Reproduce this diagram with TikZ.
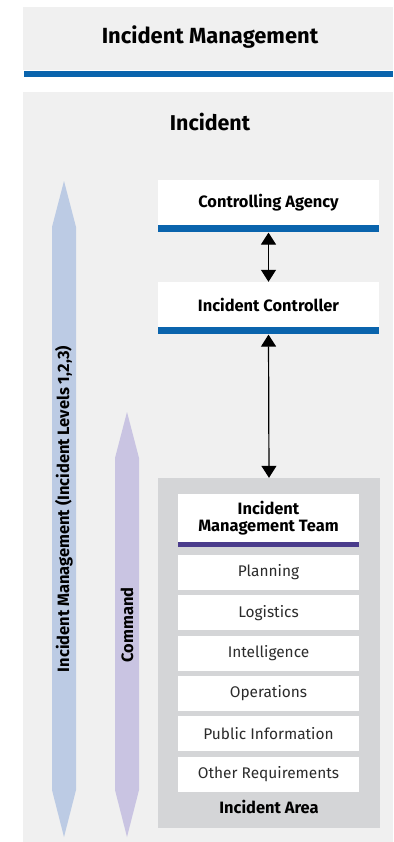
\documentclass[tikz,border=0pt]{standalone}
\usepackage{fontspec}
\setmainfont{Fira Sans}
\usetikzlibrary{positioning}
\usetikzlibrary{arrows.meta}

\definecolor{panelgray}{HTML}{F0F0F0}
\definecolor{areagray}{HTML}{D4D5D7}
\definecolor{barblue}{HTML}{0A64AD}
\definecolor{barpurple}{HTML}{4A3C8C}
\definecolor{levelblue}{HTML}{BCCBE4}
\definecolor{cmdpurple}{HTML}{C9C4E2}
\definecolor{itemtext}{HTML}{2B2B2B}

\tikzset{
  topbox/.style={fill=white, minimum width=221bp, minimum height=45bp, inner sep=0pt, font=\bfseries\fontsize{16.5}{18}\selectfont},
  bluebar/.style={fill=barblue, minimum width=221bp, minimum height=7bp, inner sep=0pt},
  itembox/.style={fill=white, minimum width=181bp, minimum height=35bp, inner sep=0pt, text=itemtext, font=\fontsize{15.5}{17}\selectfont},
  linkarrow/.style={{Triangle[width=15bp,length=12bp]}-{Triangle[width=15bp,length=12bp]}, line width=1.2bp},
  sidetext/.style={rotate=90, font=\bfseries\fontsize{16.5}{18}\selectfont}
}

\begin{document}
\begin{tikzpicture}[x=1bp, y=-1bp]
\useasboundingbox (0,0) rectangle (393,842);

%header
\fill[panelgray] (23,7) rectangle (393,70);
\fill[barblue] (24,71) rectangle (393,77);
\node[font=\bfseries\fontsize{22}{26}\selectfont] (title) at (210,37) {Incident Management};

%main panel
\fill[panelgray] (23,92) rectangle (393,842);
\node[font=\bfseries\fontsize{21.5}{25}\selectfont] (incident) at (210,122) {Incident};

%side arrows
\fill[levelblue] (64,181) -- (76,227) -- (76,790) -- (64,837) -- (52,790) -- (52,227) -- cycle;
\node[sidetext] (levels) at (64,509) {Incident Management (Incident Levels 1,2,3)};
\fill[cmdpurple] (127,412) -- (139,458) -- (139,790) -- (127,837) -- (115,790) -- (115,458) -- cycle;
\node[sidetext] (command) at (127,625) {Command};

%control chain
\node[topbox] (agency) at (268.5,202.5) {Controlling Agency};
\node[bluebar, below=0pt of agency] (agencybar) {};
\node[topbox] (controller) at (268.5,304.5) {Incident Controller};
\node[bluebar, below=0pt of controller] (controllerbar) {};

%incident area
\node[fill=areagray, minimum width=222bp, minimum height=350bp, inner sep=0pt] (area) at (269,653) {};
\node[itembox, minimum height=48bp, align=center, text=black, font=\bfseries\fontsize{16.5}{17}\selectfont] (imt) at (268.5,518) {Incident\\Management Team};
\node[fill=barpurple, minimum width=181bp, minimum height=5bp, inner sep=0pt, below=0pt of imt] (imtbar) {};
\node[itembox, below=7bp of imtbar] (planning) {Planning};
\node[itembox, below=5bp of planning] (logistics) {Logistics};
\node[itembox, below=5bp of logistics] (intelligence) {Intelligence};
\node[itembox, below=5bp of intelligence] (operations) {Operations};
\node[itembox, below=5bp of operations] (public) {Public Information};
\node[itembox, below=5bp of public] (other) {Other Requirements};
\node[font=\bfseries\fontsize{16.5}{18}\selectfont] (arealabel) at (269,807) {Incident Area};

%links
\draw[linkarrow] (agencybar.south) -- (controller.north);
\draw[linkarrow] (controllerbar.south) -- (area.north);

\end{tikzpicture}
\end{document}
